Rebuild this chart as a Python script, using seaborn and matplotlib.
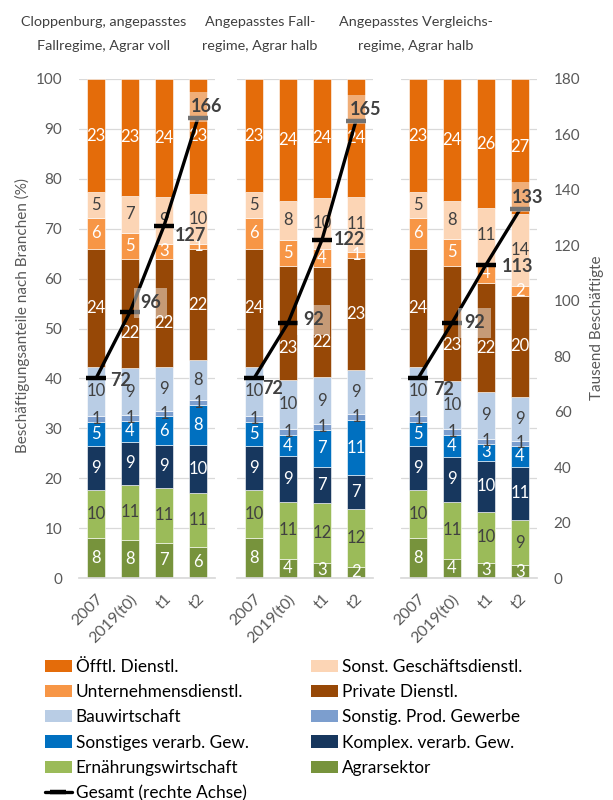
import numpy as np
import pandas as pd
import matplotlib
matplotlib.use("Agg")
import matplotlib.pyplot as plt
import seaborn as sns
from matplotlib.patches import Patch
from matplotlib.lines import Line2D

# ---------------- data ----------------
periods = ["2007", "2019(t0)", "t1", "t2"]
panel_titles = [("Cloppenburg, angepasstes", "Fallregime, Agrar voll"),
                ("Angepasstes Fall-", "regime, Agrar halb"),
                ("Angepasstes Vergleichs-", "regime, Agrar halb")]

sectors = ["Agrarsektor", "Ernährungswirtschaft", "Komplex. verarb. Gew.",
           "Sonstiges verarb. Gew.", "Sonstig. Prod. Gewerbe", "Bauwirtschaft",
           "Private Dienstl.", "Unternehmensdienstl.", "Sonst. Geschäftsdienstl.",
           "Öfftl. Dienstl."]

# employment shares in % (12 bars: panel 1 -> 2007, 2019(t0), t1, t2; panel 2 ...; panel 3 ...)
agrar      = [8.0, 7.6, 7.1, 6.3,    8.0, 3.9, 3.1, 2.3,    8.0, 3.9, 3.1, 2.6]
ernaehrung = [9.7, 11.1, 11.0, 10.7, 9.7, 11.4, 12.0, 11.6, 9.7, 11.4, 10.1, 9.0]
komplex    = [8.7, 8.6, 8.6, 9.6,    8.7, 9.1, 7.2, 6.7,    8.7, 9.0, 10.3, 10.7]
sonst_ver  = [4.9, 4.2, 5.7, 8.0,    4.9, 4.3, 7.4, 11.0,   4.9, 4.4, 3.4, 4.2]
sonst_prod = [1.2, 1.2, 1.1, 1.0,    1.2, 1.2, 1.2, 1.3,    1.2, 1.2, 1.0, 1.0]
bau        = [9.8, 9.3, 8.7, 8.0,    9.8, 9.8, 9.3, 8.7,    9.8, 9.6, 9.4, 8.8]
private    = [23.6, 22.0, 21.7, 22.4, 23.6, 22.8, 22.1, 22.6, 23.6, 23.1, 21.9, 20.2]
unternehm  = [6.3, 5.2, 3.1, 0.9,    6.3, 5.2, 3.6, 1.2,    6.3, 5.3, 4.0, 2.0]
sonst_gesch= [5.1, 7.4, 9.4, 10.1,   5.1, 7.9, 10.3, 11.0,  5.1, 7.7, 10.9, 14.4]
oeffentl   = [22.7, 23.4, 23.6, 23.0, 22.7, 24.4, 23.8, 23.6, 22.7, 24.4, 25.9, 27.1]

# total employment, thousands (right axis)
gesamt_p1 = [72, 96, 127, 166]
gesamt_p2 = [72, 92, 122, 165]
gesamt_p3 = [72, 92, 113, 133]

# ---------------- styles ----------------
colors = {
    "Agrarsektor": "#77933C",
    "Ernährungswirtschaft": "#9BBB59",
    "Komplex. verarb. Gew.": "#17375E",
    "Sonstiges verarb. Gew.": "#0070C0",
    "Sonstig. Prod. Gewerbe": "#7C9ECE",
    "Bauwirtschaft": "#B9CDE5",
    "Private Dienstl.": "#974806",
    "Unternehmensdienstl.": "#F79646",
    "Sonst. Geschäftsdienstl.": "#FCD5B5",
    "Öfftl. Dienstl.": "#E46C0A",
}
dark_label = {"Ernährungswirtschaft", "Sonstig. Prod. Gewerbe", "Bauwirtschaft",
              "Sonst. Geschäftsdienstl."}
# manual vertical shifts (pixels, negative = down) of some segment labels
label_shift = {(0, 1, "Private Dienstl."): -19, (0, 2, "Private Dienstl."): -10,
               (1, 1, "Private Dienstl."): -25, (1, 2, "Private Dienstl."): -20,
               (2, 1, "Private Dienstl."): -22, (2, 2, "Private Dienstl."): -11}

share_lists = [agrar, ernaehrung, komplex, sonst_ver, sonst_prod, bau, private,
               unternehm, sonst_gesch, oeffentl]
rows = []
for s, vals in zip(sectors, share_lists):
    for k, v in enumerate(vals):
        rows.append({"panel": k // 4, "period": periods[k % 4], "sector": s, "share": v})
df = pd.DataFrame(rows)
gesamt = [gesamt_p1, gesamt_p2, gesamt_p3]

# label offsets in pixels (dx, dy) and whether a translucent box is drawn
line_label_style = [
    [(14, -2, False), (10, 9, True), (11, -10, False), (-7, 11, True)],
    [(8, -10, False), (15, 3, True), (12, 0, False), (-6, 11, True)],
    [(15, -11, False), (12, 0, True), (16, -2, False), (-8, 12, True)],
]

sns.set_theme(style="white")
plt.rcParams["font.family"] = ["Lato", "DejaVu Sans"]

W, H = 613, 800
fig = plt.figure(figsize=(W / 100, H / 100), dpi=100)

ax_left_px = [79, 237, 401]
ax_w_px = 136
ax_top_px, ax_bot_px = 79, 578
title_x_px = [104, 260, 416]
grey = "#595959"
txt = "#404040"
px2pt = 0.72

for p in range(3):
    ax = fig.add_axes([ax_left_px[p] / W, 1 - ax_bot_px / H, ax_w_px / W,
                       (ax_bot_px - ax_top_px) / H])
    sub = df[df.panel == p]
    bottom = np.zeros(4)
    for s in sectors:
        d = sub[sub.sector == s].set_index("period").loc[periods].reset_index()
        sns.barplot(data=d, x="period", y="share", order=periods, color=colors[s],
                    saturation=1, width=0.55, bottom=bottom, ax=ax, errorbar=None,
                    edgecolor="white", linewidth=0.4, zorder=2)
        for i, v in enumerate(d["share"].values):
            dy = label_shift.get((p, i, s), 0)
            ax.annotate(f"{round(v)}", (i, bottom[i] + v / 2), xytext=(0, dy * px2pt),
                        textcoords="offset points", ha="center", va="center",
                        fontsize=12, color=txt if s in dark_label else "white", zorder=3)
        bottom = bottom + d["share"].values

    ax.set_xlim(-0.5, 3.5)
    ax.set_ylim(0, 100)
    ax.set_yticks(range(0, 101, 10))
    ax.yaxis.grid(True, color="#D9D9D9", lw=0.9)
    ax.set_axisbelow(True)
    for sp in ["top", "right", "left"]:
        ax.spines[sp].set_visible(False)
    ax.spines["bottom"].set_color("#D9D9D9")
    ax.set_xlabel("")
    ax.set_ylabel("")
    ax.set_xticks(range(4))
    ax.set_xticklabels(periods, rotation=45, ha="right", rotation_mode="anchor",
                       fontsize=11.5, color=grey)
    ax.tick_params(axis="x", length=0, pad=10)
    ax.tick_params(axis="y", length=0, pad=12, labelsize=11, labelcolor=grey)
    if p != 0:
        ax.set_yticklabels([])

    ax2 = ax.twinx()
    sns.lineplot(x=np.arange(4), y=gesamt[p], ax=ax2, color="black", lw=2.4,
                 marker="_", markersize=15, markeredgewidth=3.2,
                 markeredgecolor="black", zorder=4)
    ax2.set_ylim(0, 180)
    ax2.set_yticks(range(0, 181, 20))
    for sp in ax2.spines.values():
        sp.set_visible(False)
    ax2.tick_params(axis="y", length=0, pad=12, labelsize=11, labelcolor=grey)
    ax2.set_xlim(-0.5, 3.5)
    if p != 2:
        ax2.set_yticklabels([])
    for i, v in enumerate(gesamt[p]):
        dx, dy, boxed = line_label_style[p][i]
        kw = {}
        if boxed:
            kw["bbox"] = dict(boxstyle="square,pad=0.35", fc="white", ec="none", alpha=0.45)
        ax2.annotate(f"{v}", (i, v), xytext=(dx * px2pt, dy * px2pt),
                     textcoords="offset points", ha="left", va="center",
                     fontsize=13, fontweight="bold", color=txt, zorder=5, **kw)

    for line, ypx in zip(panel_titles[p], (22, 46)):
        fig.text(title_x_px[p] / W, 1 - ypx / H, line, ha="center", va="center",
                 fontsize=10.4, color=txt)

fig.text(22 / W, 1 - 315 / H, "Beschäftigungsanteile nach Branchen (%)", rotation=90,
         ha="center", va="center", fontsize=11, color=grey)
fig.text(597 / W, 1 - 328 / H, "Tausend Beschäftigte", rotation=90,
         ha="center", va="center", fontsize=11, color=grey)

# legend: column-first order
col1 = ["Öfftl. Dienstl.", "Unternehmensdienstl.", "Bauwirtschaft",
        "Sonstiges verarb. Gew.", "Ernährungswirtschaft"]
col2 = ["Sonst. Geschäftsdienstl.", "Private Dienstl.", "Sonstig. Prod. Gewerbe",
        "Komplex. verarb. Gew.", "Agrarsektor"]
handles = [Patch(facecolor=colors[s], edgecolor="none") for s in col1]
labels = list(col1)
handles.append(Line2D([0], [0], color="black", lw=2.4, marker="_", markersize=12,
                      markeredgewidth=3.2))
labels.append("Gesamt (rechte Achse)")
handles += [Patch(facecolor=colors[s], edgecolor="none") for s in col2]
labels += col2
fig.legend(handles, labels, loc="upper left", bbox_to_anchor=(36 / W, 1 - 650 / H),
           ncol=2, frameon=False, fontsize=12.4, handlelength=1.6, handleheight=0.7,
           handletextpad=0.2, labelspacing=0.54, columnspacing=3.6, borderpad=0,
           labelcolor="black")

fig.savefig("out.png", dpi=100)
